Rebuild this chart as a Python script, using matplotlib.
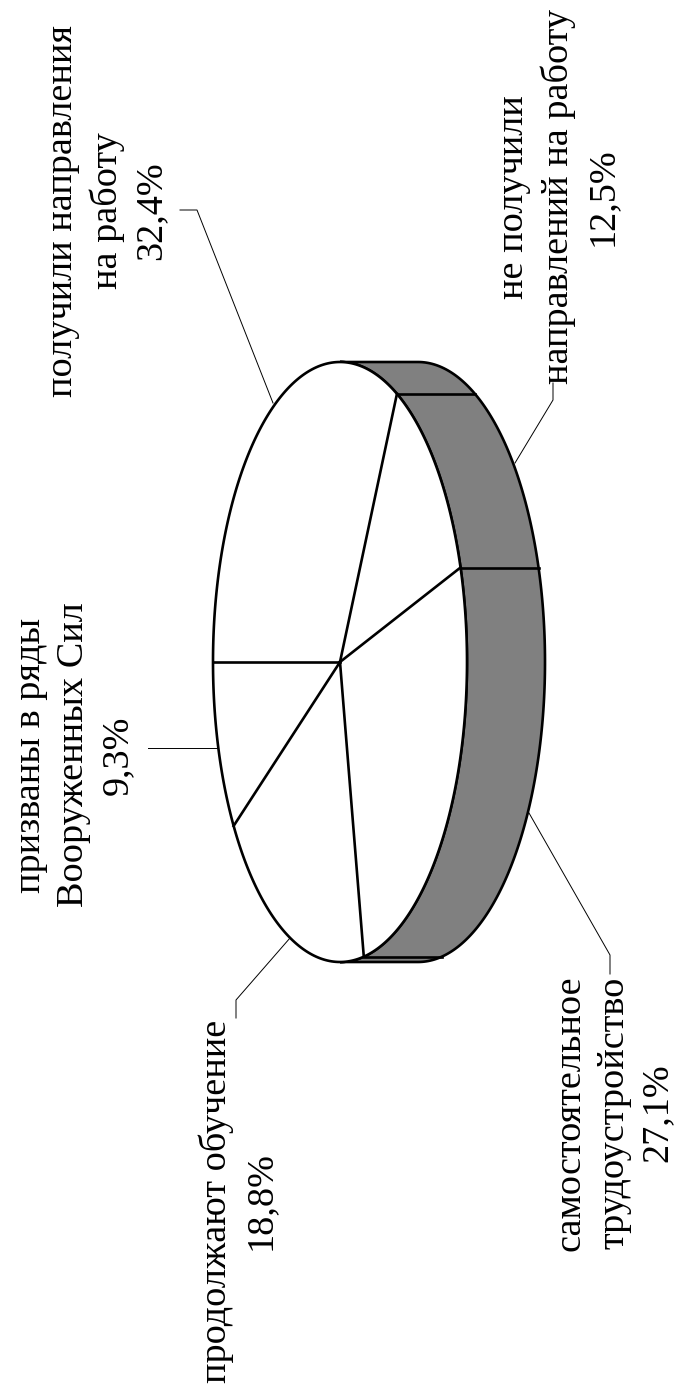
import matplotlib
matplotlib.use('Agg')
import matplotlib.pyplot as plt
import numpy as np

plt.rcParams['font.family'] = ['Liberation Serif']

categories = ['получили направления\nна работу', 'не получили\nнаправлений на работу',
              'самостоятельное\nтрудоустройство', 'продолжают обучение', 'призваны в ряды\nВооруженных Сил']
shares = [32.4, 12.5, 27.1, 18.8, 9.3]
share_labels = ['32,4%', '12,5%', '27,1%', '18,8%', '9,3%']

# pie drawn turned on its side, pixel coordinates of the page
cx, cy = 340, 662
rx, ry = 127, 300
depth = 78
start = 180


def rim(t):
    t = np.radians(t)
    return cx + rx * np.cos(t), cy - ry * np.sin(t)


fig = plt.figure(figsize=(6.74, 13.93), dpi=100)
ax = fig.add_axes([0, 0, 1, 1])
ax.set_xlim(0, 674)
ax.set_ylim(1393, 0)
ax.axis('off')

# side wall
t = np.linspace(90, -90, 200)
x, y = rim(t)
ax.fill(np.r_[x, x[::-1] + depth], np.r_[y, y[::-1]], facecolor='#808080', edgecolor='black', lw=1.9, zorder=1)

# top face
t = np.linspace(0, 360, 400)
x, y = rim(t)
ax.fill(x, y, facecolor='white', edgecolor='black', lw=1.9, zorder=2)

# slice borders
bounds = start - np.cumsum([0] + shares) * 3.6
for b in bounds[:-1]:
    x, y = rim(b)
    ax.plot([cx, x], [cy, y], color='black', lw=1.9, zorder=3)
    if x > cx:
        ax.plot([x, x + depth], [y, y], color='black', lw=1.9, zorder=1.5)

# leader lines
leaders = [[(180, 210), (197, 210), (273, 403)],
           [(515, 463), (553, 400), (553, 383)],
           [(529, 813), (610, 955), (610, 974)],
           [(290, 938), (236, 1000), (236, 1018)],
           [(148, 748), (218, 748)]]
for pts in leaders:
    ax.plot([p[0] for p in pts], [p[1] for p in pts], color='black', lw=0.7, zorder=4)

text_pos = [(107, 211), (558, 197), (614, 1113), (238, 1201), (74, 755)]
for name, lab, (px, py) in zip(categories, share_labels, text_pos):
    ax.text(px, py, name + '\n' + lab, rotation=90, ha='center', va='center', multialignment='center',
            fontsize=27.5, linespacing=1.34, color='black')

fig.savefig('out.png', dpi=100)
